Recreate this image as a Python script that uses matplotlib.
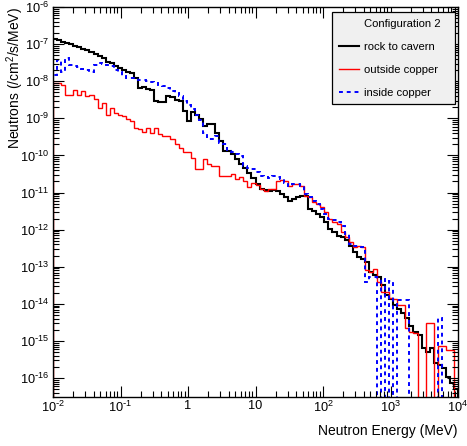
import numpy as np
import matplotlib
matplotlib.use('Agg')
from matplotlib import pyplot as plt
from matplotlib.lines import Line2D
from matplotlib import ticker

plt.rcParams['font.family'] = ['Liberation Sans', 'DejaVu Sans']
plt.rcParams['mathtext.default'] = 'regular'

# 100 log bins, 10^-2 .. 10^4 MeV
edges = np.logspace(-2, 4, 101)

# bin contents as log10(flux), None = empty bin
rock_log = [
    -6.86, -6.89, -6.93, -6.97, -7.00, -7.05, -7.08, -7.12, -7.17, -7.22,
    -7.27, -7.31, -7.38, -7.48, -7.52, -7.58, -7.64, -7.70, -7.75, -7.79,
    -7.90, -8.17, -8.15, -8.20, -8.23, -8.54, -8.57, -8.57, -8.40, -8.43,
    -8.51, -8.54, -8.81, -9.08, -8.82, -8.90, -9.03, -9.20, -9.16, -9.16,
    -9.39, -9.61, -9.88, -9.88, -9.97, -10.10, -10.24, -10.33, -10.46, -10.62,
    -10.77, -10.91, -10.93, -10.95, -10.92, -10.95, -11.04, -11.13, -11.22, -11.17,
    -11.13, -11.09, -11.09, -11.44, -11.49, -11.58, -11.66, -11.80, -11.98, -12.07,
    -12.16, -12.20, -12.29, -12.43, -12.60, -12.74, -12.78, -12.87, -13.14, -13.21,
    -13.27, -13.50, -13.77, -13.86, -14.04, -14.15, -14.25, -14.37, -14.60, -14.75,
    -14.85, -15.20, -15.30, -15.20, -15.60, -15.64, -15.73, -15.96, -16.13, -16.30]

outside_log = [
    -8.05, -8.05, -8.09, -8.36, -8.36, -8.23, -8.36, -8.27, -8.40, -8.36,
    -8.48, -8.72, -8.58, -8.90, -8.72, -8.85, -8.90, -8.94, -9.03, -9.08,
    -9.25, -9.30, -9.37, -9.25, -9.39, -9.25, -9.43, -9.48, -9.48, -9.57,
    -9.70, -9.79, -9.92, -9.92, -10.06, -10.37, -10.37, -10.10, -10.24, -10.28,
    -10.28, -10.55, -10.56, -10.56, -10.50, -10.64, -10.59, -10.68, -10.86, -10.73,
    -10.80, -10.91, -10.95, -10.91, -10.91, -10.68, -10.66, -10.70, -10.82, -10.77,
    -10.77, -10.82, -11.09, -11.13, -11.26, -11.31, -11.38, -11.53, -11.71, -11.80,
    -11.84, -12.07, -12.20, -12.34, -12.47, -12.43, -12.47, -13.10, -13.14, -13.07,
    -13.41, -13.68, -13.68, -13.84, -13.86, -14.04, -14.04, -14.66, -14.75, -14.79,
    None, None, -14.52, -14.52, None, -15.13, -15.13, -15.24, -15.24, None]

inside_log = [
    -7.82, -7.42, -7.75, -7.38, -7.55, -7.60, -7.62, -7.66, -7.70, -7.76,
    -7.55, -7.51, -7.53, -7.55, -7.60, -7.69, -7.75, -7.87, -7.91, -7.91,
    -7.91, -7.96, -7.96, -8.00, -8.02, -8.05, -8.10, -8.14, -8.18, -8.25,
    -8.32, -8.41, -8.54, -8.63, -8.76, -8.90, -9.05, -9.39, -9.57, -9.57,
    -9.48, -9.66, -9.70, -9.88, -9.92, -9.97, -10.01, -10.28, -10.33, -10.37,
    -10.45, -10.55, -10.59, -10.62, -10.55, -10.58, -10.64, -10.75, -10.82, -10.77,
    -10.77, -10.82, -11.05, -11.13, -11.22, -11.31, -11.44, -11.57, -11.71, -11.75,
    -11.80, -11.89, -12.11, -12.38, -12.44, -12.43, -12.47, -13.41, -13.27, -13.27,
    None, -13.32, None, -13.39, None, -13.90, -13.90, -13.90, None, None,
    None, None, None, None, None, -14.39, None, None, None, None]

xticks = [1e-2, 1e-1, 1, 10, 1e2, 1e3, 1e4]
xtick_labels = ['$10^{\\text{-}2}$', '$10^{\\text{-}1}$', '1', '10',
                '$10^{2}$', '$10^{3}$', '$10^{4}$']
yticks = [10.0 ** k for k in range(-16, -5)]
ytick_labels = ['$10^{\\text{-}%d}$' % -k for k in range(-16, -5)]

FLOOR = 1e-25


def to_flux(vals):
    return np.array([10.0 ** v if v is not None else FLOOR for v in vals])


fig = plt.figure(figsize=(4.67, 4.46), dpi=100)
ax = fig.add_axes([53 / 467, 1 - 397 / 446, 405 / 467, 390 / 446])
ax.set_xscale('log')
ax.set_yscale('log')

ax.stairs(to_flux(rock_log), edges, baseline=FLOOR, color='black', lw=1.5)
ax.stairs(to_flux(outside_log), edges, baseline=FLOOR, color='#ff0000', lw=1.0)
ax.stairs(to_flux(inside_log), edges, baseline=FLOOR, color='#0000ff', lw=1.4,
          linestyle=(0, (2, 2)))

ax.set_xlim(1e-2, 1e4)
ax.set_ylim(3.1e-17, 1e-6)

ax.xaxis.set_major_locator(ticker.FixedLocator(xticks))
ax.xaxis.set_major_formatter(ticker.FixedFormatter(xtick_labels))
ax.xaxis.set_minor_locator(ticker.LogLocator(base=10, subs=np.arange(2, 10), numticks=100))
ax.xaxis.set_minor_formatter(ticker.NullFormatter())
ax.yaxis.set_major_locator(ticker.FixedLocator(yticks))
ax.yaxis.set_major_formatter(ticker.FixedFormatter(ytick_labels))
ax.yaxis.set_minor_locator(ticker.LogLocator(base=10, subs=np.arange(2, 10), numticks=100))
ax.yaxis.set_minor_formatter(ticker.NullFormatter())

ax.tick_params(which='both', direction='in', top=True, right=True, width=0.8,
               labelsize=9.2)
ax.tick_params(which='major', length=8)
ax.tick_params(which='minor', length=4)
ax.tick_params(axis='x', pad=2)
ax.tick_params(axis='y', pad=3)
for sp in ax.spines.values():
    sp.set_linewidth(1.0)

ax.set_xlabel('Neutron Energy (MeV)', fontsize=10, ha='right', va='top')
ax.xaxis.set_label_coords(1.0, -0.07)
ax.set_ylabel('Neutrons (/cm$^{2}$/s/MeV)', fontsize=10, ha='right', va='center')
ax.yaxis.set_label_coords(-0.093, 1.0)

handles = [Line2D([], [], color='none'),
           Line2D([], [], color='black', lw=1.5),
           Line2D([], [], color='#ff0000', lw=1.0),
           Line2D([], [], color='#0000ff', lw=1.4, linestyle=(0, (2, 2)))]
labels = ['Configuration 2', 'rock to cavern', 'outside copper', 'inside copper']
leg = ax.legend(handles, labels, loc='upper left',
                bbox_to_anchor=(0.689, 0.751, 0.304, 0.236), mode='expand',
                fontsize=8.1, handlelength=1.8, handletextpad=0.45,
                labelspacing=1.15, borderpad=0.6, fancybox=False,
                framealpha=1.0, borderaxespad=0.0)
leg.get_frame().set_facecolor('#f0f0f0')
leg.get_frame().set_edgecolor('black')
leg.get_frame().set_linewidth(0.9)

fig.savefig('out.png', dpi=100)
